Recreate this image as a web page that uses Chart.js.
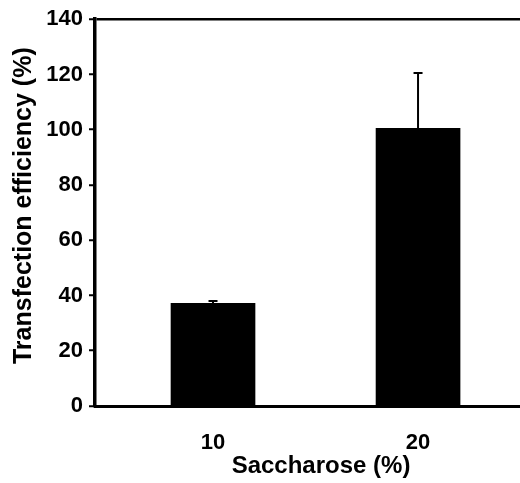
<!DOCTYPE html>
<html>
<head>
<meta charset="utf-8">
<script src="https://cdn.jsdelivr.net/npm/chart.js@4"></script>
<style>
  html, body { margin: 0; padding: 0; background: #fff; overflow: hidden; }
</style>
</head>
<body>
<canvas id="grafico" width="547" height="483"></canvas>
<script>
const saccharose = [10, 20];
const efficiency = [37.2, 100.5];
const errors = [0.8, 20];
const yTicks = [0, 20, 40, 60, 80, 100, 120, 140];

const fontFamily = '"Liberation Sans", Arial, sans-serif';

// error bars, drawn upward only
const errorBars = {
  id: 'errorBars',
  afterDatasetsDraw(chart) {
    const { ctx, scales: { x, y } } = chart;
    ctx.save();
    ctx.strokeStyle = '#000';
    ctx.lineWidth = 2;
    saccharose.forEach((s, i) => {
      const px = x.getPixelForValue(s);
      const top = y.getPixelForValue(efficiency[i]);
      const err = y.getPixelForValue(efficiency[i] + errors[i]);
      ctx.beginPath();
      ctx.moveTo(px, top);
      ctx.lineTo(px, err);
      ctx.moveTo(px - 4.5, err);
      ctx.lineTo(px + 4.5, err);
      ctx.stroke();
    });
    ctx.restore();
  }
};

const ctx = document.getElementById('grafico').getContext('2d');
new Chart(ctx, {
  type: 'bar',
  data: {
    datasets: [{
      data: saccharose.map((s, i) => ({ x: s, y: efficiency[i] })),
      backgroundColor: '#000',
      borderWidth: 0,
      barThickness: 84
    }]
  },
  options: {
    responsive: false,
    animation: false,
    layout: { padding: { top: 15, right: 0, bottom: 0, left: 0 } },
    plugins: { legend: { display: false }, tooltip: { enabled: false } },
    scales: {
      x: {
        type: 'linear',
        offset: false,
        min: 4.244,
        max: 26.29,
        afterBuildTicks: axis => { axis.ticks = saccharose.map(v => ({ value: v })); },
        afterFit: axis => { axis.height = 77; },
        grid: { display: false, offset: false, drawTicks: false },
        border: { display: true, color: '#000', width: 3 },
        ticks: {
          color: '#000',
          padding: 24,
          maxRotation: 0,
          font: { family: fontFamily, size: 22, weight: 'bold' }
        },
        title: {
          display: true,
          text: 'Saccharose (%)',
          color: '#000',
          padding: { top: 0, bottom: 2 },
          font: { family: fontFamily, size: 24, weight: 'bold' }
        }
      },
      y: {
        min: 0,
        max: 140,
        afterBuildTicks: axis => { axis.ticks = yTicks.map(v => ({ value: v })); },
        afterFit: axis => { axis.width = 95; },
        grid: {
          color: c => (c.tick && c.tick.value === 140) ? '#000' : 'rgba(0,0,0,0)',
          lineWidth: 2.5,
          tickColor: '#000',
          tickWidth: 2,
          tickLength: 6
        },
        border: { display: true, color: '#000', width: 3.5 },
        ticks: {
          color: '#000',
          padding: 6,
          font: { family: fontFamily, size: 22, weight: 'bold' }
        },
        title: {
          display: true,
          text: '  Transfection efficiency (%)',
          color: '#000',
          padding: { top: 9, bottom: 0 },
          font: { family: fontFamily, size: 25, weight: 'bold' }
        }
      }
    }
  },
  plugins: [errorBars]
});
</script>
</body>
</html>
